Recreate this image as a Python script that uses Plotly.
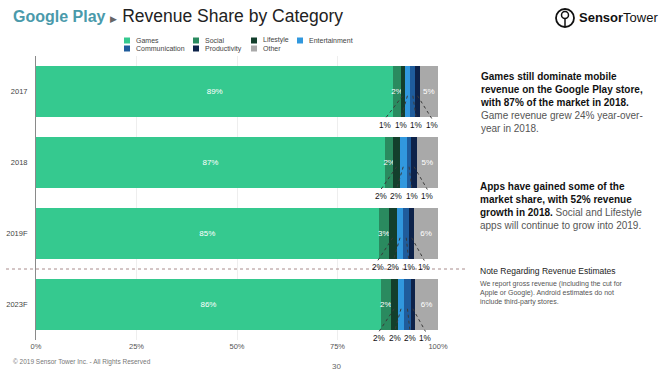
import plotly.graph_objects as go

# ---------------- data ----------------
years = ["2017", "2018", "2019F", "2023F"]
categories = ["Games", "Social", "Lifestyle", "Entertainment",
              "Communication", "Productivity", "Other"]
games = [88.9, 86.8, 85.2, 85.8]
social = [1.8, 2.1, 2.6, 2.4]
lifestyle = [1.0, 1.6, 1.9, 1.8]
entertainment = [1.4, 1.7, 1.7, 1.6]
communication = [1.3, 1.2, 1.4, 1.6]
productivity = [1.0, 1.3, 1.3, 1.1]
other = [4.6, 5.3, 5.9, 5.7]
x_ticks = [0, 25, 50, 75, 100]
x_tick_labels = ["0%", "25%", "50%", "75%", "100%"]

series = [games, social, lifestyle, entertainment, communication, productivity, other]
colors = ["#35C98F", "#2A8A5F", "#133F2C", "#3198DE", "#1F5C9C", "#0D2249", "#A9A9A9"]
inside_labelled = {"Games", "Social", "Other"}

W, H = 672, 376
ML, MR, MT, MB = 36, 234, 56, 36
PW, PH = W - ML - MR, H - MT - MB


def px(p):
    return (p - ML) / PW


def py(p):
    return (H - MB - p) / PH


FONT = "Liberation Sans, Arial, sans-serif"

fig = go.Figure()
for name, vals, col in zip(categories, series, colors):
    if name in inside_labelled:
        txt = [f"{round(v)}%" for v in vals]
    else:
        txt = ["" for _ in vals]
    fig.add_trace(go.Bar(
        name=name, y=years, x=vals, orientation="h",
        marker=dict(color=col, line=dict(width=0)),
        text=txt, textposition="inside", insidetextanchor="middle",
        textangle=0, constraintext="none",
        textfont=dict(color="white", size=8, family=FONT),
        showlegend=False, hoverinfo="skip",
    ))

shapes = []
annotations = []

# external labels with dotted leader lines
for i, yr in enumerate(years):
    starts = []
    acc = 0
    for vals in series:
        starts.append(acc)
        acc += vals[i]
    centers = []
    labels = []
    for k in range(2, 6):
        c = starts[k] + series[k][i] / 2
        centers.append(c)
        labels.append(f"{round(series[k][i])}%")
    mid = sum(centers) / len(centers) - 0.4
    for j, (c, lab) in enumerate(zip(centers, labels)):
        lx = mid + (j - 1.5) * 3.85
        shapes.append(dict(type="line", xref="x", yref="y",
                           x0=c, y0=i + 0.06, x1=lx, y1=i + 0.38,
                           line=dict(color="#3a3a3a", width=1, dash="dot"),
                           layer="above"))
        annotations.append(dict(x=lx, y=i + 0.48, xref="x", yref="y",
                                text=lab, showarrow=False,
                                font=dict(size=8.2, color="#111", family=FONT)))

# dashed separator between actual and forecast
shapes.append(dict(type="line", xref="paper", yref="paper",
                   x0=px(6), x1=px(466), y0=0.25, y1=0.25,
                   line=dict(color="#a88c8c", width=1, dash="3px,3px")))

# manual legend
leg_pos = [(124, 40.5), (193, 40.5), (251, 40.5), (297, 40.5),
           (124, 48.5), (193, 48.5), (251, 48.5)]
for (lx, ly), name, col in zip(leg_pos, categories, colors):
    shapes.append(dict(type="rect", xref="paper", yref="paper",
                       x0=px(lx), x1=px(lx + 6), y0=py(ly - 3), y1=py(ly + 3),
                       fillcolor=col, line=dict(width=0)))
    annotations.append(dict(x=px(lx + 10), y=py(ly), xref="paper", yref="paper",
                            xanchor="left", yanchor="middle", showarrow=False,
                            text=name, font=dict(size=7, color="#444", family=FONT)))

# title
annotations.append(dict(
    x=px(11), y=py(16), xref="paper", yref="paper", xanchor="left", yanchor="middle",
    showarrow=False,
    text=("<span style='color:#4A9AAB;font-size:16px'><b>Google Play</b></span> "
          "<span style='color:#666;font-size:9px'>▶</span> Revenue Share by Category"),
    font=dict(size=17.5, color="#222", family=FONT)))

# logo
shapes.append(dict(type="circle", xref="paper", yref="paper",
                   x0=px(556), x1=px(574), y0=py(9), y1=py(27),
                   line=dict(color="#111", width=1.8)))
shapes.append(dict(type="circle", xref="paper", yref="paper",
                   x0=px(561.5), x1=px(568.5), y0=py(11.5), y1=py(18.5),
                   line=dict(color="#111", width=1.5)))
shapes.append(dict(type="line", xref="paper", yref="paper",
                   x0=px(565), x1=px(565), y0=py(18.5), y1=py(27),
                   line=dict(color="#111", width=1.5)))
annotations.append(dict(
    x=px(577), y=py(18), xref="paper", yref="paper", xanchor="left", yanchor="middle",
    showarrow=False, text="<b>Sensor</b>Tower",
    font=dict(size=13, color="#111", family=FONT)))

# right-hand commentary
annotations.append(dict(
    x=px(478), y=py(69), xref="paper", yref="paper", xanchor="left", yanchor="top",
    align="left", showarrow=False,
    text=("<b>Games still dominate mobile<br>revenue on the Google Play store,<br>"
          "with 87% of the market in 2018.</b><br>"
          "<span style='color:#555'>Game revenue grew 24% year-over-<br>year in 2018.</span>"),
    font=dict(size=10, color="#111", family=FONT)))
annotations.append(dict(
    x=px(478), y=py(179), xref="paper", yref="paper", xanchor="left", yanchor="top",
    align="left", showarrow=False,
    text=("<b>Apps have gained some of the<br>market share, with 52% revenue<br>"
          "growth in 2018.</b> <span style='color:#555'>Social and Lifestyle<br>"
          "apps will continue to grow into 2019.</span>"),
    font=dict(size=10, color="#111", family=FONT)))
annotations.append(dict(
    x=px(478), y=py(271), xref="paper", yref="paper", xanchor="left", yanchor="middle",
    align="left", showarrow=False, text="Note Regarding Revenue Estimates",
    font=dict(size=8.5, color="#222", family=FONT)))
annotations.append(dict(
    x=px(478), y=py(278), xref="paper", yref="paper", xanchor="left", yanchor="top",
    align="left", showarrow=False,
    text=("We report gross revenue (including the cut for<br>"
          "Apple or Google). Android estimates do not<br>include third-party stores."),
    font=dict(size=7, color="#555", family=FONT)))

# footer
annotations.append(dict(
    x=px(11), y=py(362), xref="paper", yref="paper", xanchor="left", yanchor="middle",
    showarrow=False, text="© 2019 Sensor Tower Inc. - All Rights Reserved",
    font=dict(size=6.5, color="#777", family=FONT)))
annotations.append(dict(
    x=px(336), y=py(366), xref="paper", yref="paper", xanchor="center", yanchor="middle",
    showarrow=False, text="30", font=dict(size=8, color="#666", family=FONT)))

fig.update_layout(
    width=W, height=H, margin=dict(l=ML, r=MR, t=MT, b=MB, autoexpand=False),
    barmode="stack", bargap=0.28,
    paper_bgcolor="white", plot_bgcolor="white",
    font=dict(family=FONT),
    xaxis=dict(range=[0, 100], tickvals=x_ticks, ticktext=x_tick_labels,
               showgrid=True, gridcolor="#eeeeee", gridwidth=1, zeroline=False,
               showline=False, automargin=False,
               tickfont=dict(size=7.5, color="#555"), fixedrange=True),
    yaxis=dict(categoryorder="array", categoryarray=years, range=[3.5, -0.5],
               showline=True, linecolor="#8a8a8a", linewidth=1, showgrid=False,
               automargin=False, ticks="", ticklabelstandoff=6, fixedrange=True,
               tickfont=dict(size=7.5, color="#444")),
    shapes=shapes, annotations=annotations, showlegend=False,
)

fig.write_html("out.html", config={"displayModeBar": False, "staticPlot": True},
               post_script="document.body.style.margin='0';")
